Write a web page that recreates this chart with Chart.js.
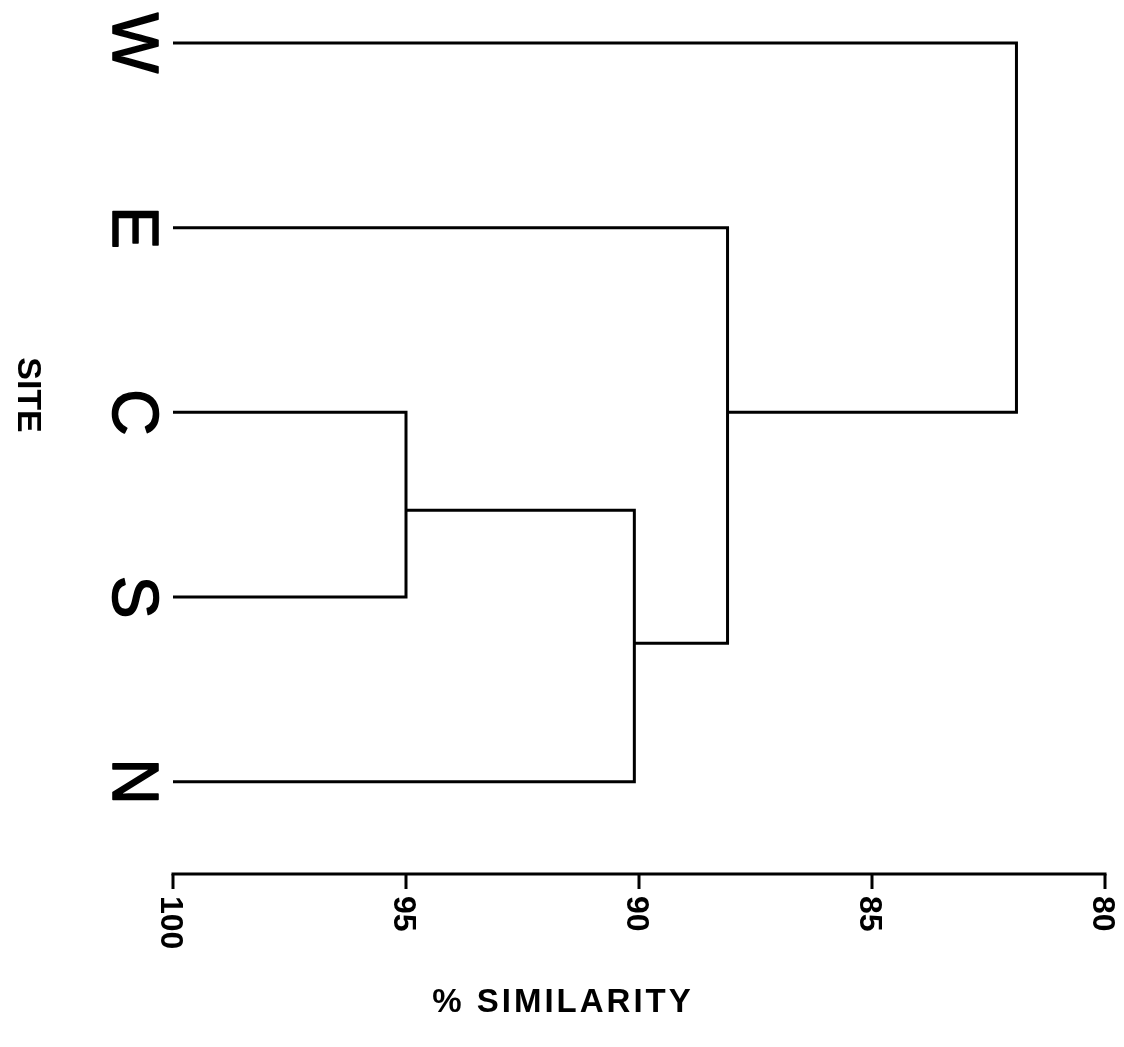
<!DOCTYPE html>
<html>
<head>
<meta charset="utf-8">
<script src="https://cdn.jsdelivr.net/npm/chart.js@4.4.1/dist/chart.umd.min.js"></script>
<style>
  html, body { margin: 0; padding: 0; background: #fff; }
  canvas { display: block; }
</style>
</head>
<body>
<canvas id="grafico" width="1124" height="1047"></canvas>
<script>
// ================= DATOS =================
// hojas (de arriba a abajo)
const sitios = ["W", "E", "C", "S", "N"];
// uniones: clusters 0-4 son hojas, 5+ son las uniones en orden
const unionA = [2, 5, 1, 0];
const unionB = [3, 4, 6, 7];
const unionSimilitud = [95.0, 90.1, 88.1, 81.9];
const unionFila = [2.53, 3.25, 2.0, 2.0];   // posición vertical del nodo (en filas)
const ticksSimilitud = [100, 95, 90, 85, 80];

const tituloX = "% SIMILARITY";
const tituloY = "SITE";

// ================= ARMADO =================
function posCluster(c) {
    if (c < sitios.length) return { x: 100, y: c };
    const k = c - sitios.length;
    return { x: unionSimilitud[k], y: unionFila[k] };
}

const datasets = unionA.map((a, k) => {
    const pa = posCluster(a);
    const pb = posCluster(unionB[k]);
    const s = unionSimilitud[k];
    return {
        data: [
            { x: pa.x, y: pa.y },
            { x: s, y: pa.y },
            { x: s, y: pb.y },
            { x: pb.x, y: pb.y }
        ],
        showLine: true,
        borderColor: "#000",
        borderWidth: 3,
        borderJoinStyle: "miter",
        borderCapStyle: "butt",
        pointRadius: 0,
        tension: 0
    };
});

// etiquetas, eje y títulos
const dibujarTextos = {
    id: "dibujarTextos",
    afterDraw(chart) {
        const ctx = chart.ctx;
        const xs = chart.scales.x;
        const ys = chart.scales.y;
        const area = chart.chartArea;
        ctx.save();
        ctx.fillStyle = "#000";
        ctx.strokeStyle = "#000";

        // sitios, rotados 90° horario (un poco de trazo para engrosar)
        const tam = 64;
        ctx.font = tam + "px 'Liberation Sans', Arial, sans-serif";
        ctx.lineWidth = 1.6;
        ctx.lineJoin = "round";
        sitios.forEach((s, i) => {
            ctx.save();
            ctx.translate(area.left - 37, ys.getPixelForValue(i));
            ctx.rotate(Math.PI / 2);
            ctx.textAlign = "center";
            ctx.textBaseline = "alphabetic";
            ctx.fillText(s, 0, tam * 0.36);
            ctx.strokeText(s, 0, tam * 0.36);
            ctx.restore();
        });

        // título eje Y
        ctx.save();
        ctx.font = "bold 34px 'Liberation Sans', Arial, sans-serif";
        ctx.translate(30, 395);
        ctx.rotate(Math.PI / 2);
        ctx.textAlign = "center";
        ctx.fillText(tituloY, 0, 34 * 0.36);
        ctx.restore();

        // eje de similitud
        const yEje = area.bottom;
        ctx.lineWidth = 3;
        ctx.lineCap = "butt";
        ctx.beginPath();
        ctx.moveTo(xs.getPixelForValue(100) - 1.5, yEje);
        ctx.lineTo(xs.getPixelForValue(80) + 1.5, yEje);
        ctx.stroke();
        ctx.font = "bold 32px 'Liberation Sans', Arial, sans-serif";
        ticksSimilitud.forEach(t => {
            const px = xs.getPixelForValue(t);
            ctx.beginPath();
            ctx.moveTo(px, yEje);
            ctx.lineTo(px, yEje + 15);
            ctx.stroke();
            ctx.save();
            ctx.translate(px, yEje + 22);
            ctx.rotate(Math.PI / 2);
            ctx.textAlign = "left";
            ctx.fillText(String(t), 0, 32 * 0.36);
            ctx.restore();
        });

        // título eje X
        ctx.font = "bold 33px 'Liberation Sans', Arial, sans-serif";
        ctx.letterSpacing = "3px";
        ctx.textAlign = "center";
        ctx.textBaseline = "alphabetic";
        ctx.fillText(tituloX, 563, 1012);
        ctx.restore();
    }
};

new Chart(document.getElementById("grafico"), {
    type: "scatter",
    data: { datasets },
    options: {
        responsive: false,
        animation: false,
        layout: { padding: { left: 173, right: 19, top: 0, bottom: 173 } },
        plugins: { legend: { display: false }, tooltip: { enabled: false } },
        scales: {
            x: { type: "linear", min: 80, max: 100, reverse: true, display: false },
            y: { type: "linear", min: -0.233, max: 4.5, reverse: true, display: false }
        }
    },
    plugins: [dibujarTextos]
});
</script>
</body>
</html>
